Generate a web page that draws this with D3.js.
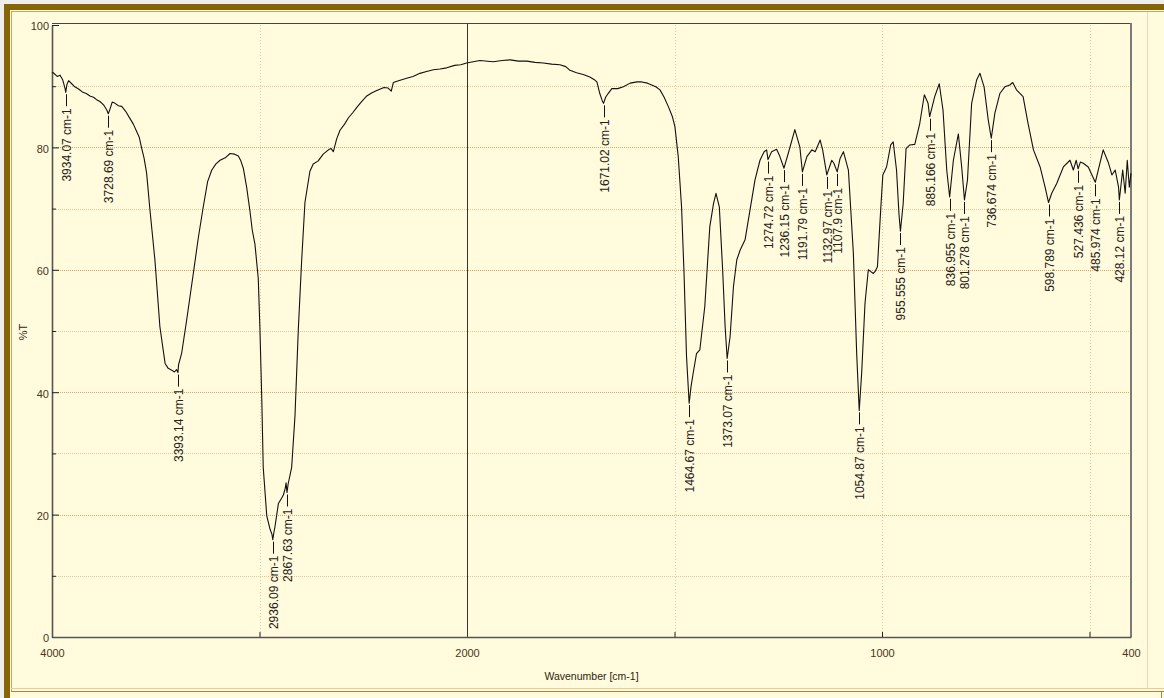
<!DOCTYPE html>
<html>
<head>
<meta charset="utf-8">
<script src="https://cdn.jsdelivr.net/npm/d3@7"></script>
<style>
body { margin: 0; background: #fff; }
svg { display: block; font-family: "Liberation Sans", Arial, sans-serif; }
</style>
</head>
<body>
<svg id="chart" width="1164" height="698"></svg>
<script>
// spectrum (cm-1 and %T)
var wavenumbers = [4000,3994,3975,3961,3948,3937,3934,3928,3920,3905,3890,3870,3851,3835,3817,3800,3785,3769,3750,3736,3728.7,3720,3710,3696,3680,3664,3645,3624,3608,3592,3580,3568,3556,3544,3528,3504,3480,3455,3440,3423,3410,3400,3393.1,3390,3375,3351,3319,3295,3271,3250,3230,3210,3190,3165,3142,3120,3102,3090,3078,3062,3046,3035,3022,3006,2998,2989,2982,2965,2949,2940,2936.1,2930,2925,2909,2895,2885,2876,2872,2867.6,2862,2845,2829,2813,2797,2781,2757,2741,2717,2693,2668,2655,2644,2635,2628,2612,2590,2572,2550,2532,2510,2483,2460,2435,2400,2380,2365,2355,2330,2291,2260,2227,2195,2162,2130,2098,2060,2030,2002,1969,1937,1915,1896,1876,1856,1836,1816,1796,1776,1762,1752,1736,1720,1704,1692,1687,1680,1674,1671.0,1666,1660,1651,1637,1623,1607,1590,1579,1565,1555,1545,1535,1525,1515,1505,1499,1491,1483,1477,1471,1464.7,1460,1455,1447,1439,1427,1415,1406,1400,1392,1384,1378,1373.1,1366,1358,1350,1342,1330,1318,1306,1294,1284,1278,1274.7,1266,1254,1246,1236.2,1226,1210,1198,1191.8,1181,1169,1161,1149,1143,1133.0,1121,1116,1107.9,1101,1093,1081,1069,1061,1054.9,1049,1041,1033,1027,1021,1016,1011,1003,998,989,979,973,965,959,955.6,949,942,933,921,909,898,889,885.2,873,862,853,844,837.0,828,816,808,801.3,794,784,772,764,754,744,736.7,728,716,704,692,685,676,660,648,635,619,607,598.8,591,579,563,547,539,532,527.4,522,515,503,486.0,475,467,454,446,438,430,428.1,420,414,409,404,400];
var transmittance = [92.3,92.2,91.6,91.8,91.0,89.6,89.0,90.3,90.9,90.4,89.9,89.5,89.0,88.8,88.4,88.2,87.8,87.5,86.9,86.1,85.5,86.3,87.4,87.2,86.8,86.7,85.9,84.7,83.8,82.6,81.7,79.9,78.2,75.8,69.8,61.6,50.7,44.7,43.9,43.6,43.3,43.7,43.2,44.5,46.4,51.8,59.4,65.2,70.3,74.4,76.3,77.3,77.9,78.3,79.0,78.9,78.6,77.8,76.6,73.5,69.6,66.5,64.2,58.6,50.4,38.9,27.7,19.8,17.6,16.8,15.9,17.2,18.1,21.8,22.6,23.2,24.3,25.2,23.6,25.0,27.7,36.1,50.2,61.4,71.0,76.1,77.3,77.8,78.9,79.6,79.8,79.3,80.5,81.4,82.8,83.8,84.8,85.7,86.5,87.4,88.4,88.9,89.3,89.8,89.7,89.2,90.6,90.9,91.3,91.6,92.1,92.4,92.7,92.8,93.0,93.4,93.5,93.8,94.2,94.0,94.2,94.3,94.1,94.1,93.9,93.8,93.6,93.5,93.2,92.6,92.2,91.9,91.5,91.0,90.7,88.8,87.6,87.2,88.2,88.8,89.6,89.6,89.9,90.5,90.7,90.7,90.5,90.2,89.9,89.4,88.2,86.7,85.0,83.4,78.5,70.3,59.4,45.8,38.2,41.0,43.1,46.3,46.9,54.0,67.0,70.8,72.5,70.3,60.0,50.7,45.5,49.1,57.2,61.6,63.2,64.9,69.8,74.7,77.9,79.3,79.6,78.0,79.3,79.7,78.5,76.6,79.0,82.9,80.1,76.0,78.5,79.6,79.3,81.2,79.6,75.5,77.9,77.4,76.0,78.2,79.3,76.3,62.7,46.3,37.0,43.1,54.5,60.0,59.7,59.4,59.8,60.5,70.0,75.5,76.8,80.4,80.9,76.3,69.0,66.3,70.8,79.8,80.4,80.5,83.9,88.6,87.2,85.0,88.3,90.4,86.1,76.3,71.9,77.9,82.2,76.8,71.4,74.7,87.2,91.0,92.1,89.9,84.5,81.5,85.6,88.8,89.9,90.2,90.6,89.4,88.3,83.9,79.6,76.8,73.5,71.0,72.5,74.1,76.8,77.9,76.3,77.9,76.5,77.6,77.4,76.8,74.3,77.4,79.6,77.4,75.5,76.3,73.5,71.4,76.3,72.5,77.9,73.5,75.8];

// picked peaks
var peakPositions = [3934.07,3728.69,3393.14,2936.09,2867.63,1671.02,1464.67,1373.07,1274.72,1236.15,1191.79,1132.97,1107.9,1054.87,955.555,885.166,836.955,801.278,736.674,598.789,527.436,485.974,428.12];
var peakLabels = ["3934.07 cm-1","3728.69 cm-1","3393.14 cm-1","2936.09 cm-1","2867.63 cm-1","1671.02 cm-1","1464.67 cm-1","1373.07 cm-1","1274.72 cm-1","1236.15 cm-1","1191.79 cm-1","1132.97 cm-1","1107.9 cm-1","1054.87 cm-1","955.555 cm-1","885.166 cm-1","836.955 cm-1","801.278 cm-1","736.674 cm-1","598.789 cm-1","527.436 cm-1","485.974 cm-1","428.12 cm-1"];

var yMajorTicks = [0,20,40,60,80,100];
var yMinorTicks = [10,30,50,70,90];
var xTickLabels = [4000,2000,1000,400];
var xGridValues = [3000,1500,1000,500];

var svg = d3.select('#chart');
var W = 1164, H = 698;
var pLeft = 52, pRight = 1131, pTop = 25, pBottom = 637;

// x axis is expanded below 2000 cm-1
var x = d3.scaleLinear().domain([4000, 2000, 400]).range([pLeft, 467, pRight]);
var y = d3.scaleLinear().domain([0, 100]).range([pBottom, pTop]);

// window frame
svg.append('rect').attr('x', 0).attr('y', 0).attr('width', W).attr('height', H).attr('fill', '#eeeeee');
svg.append('rect').attr('x', 4).attr('y', 4).attr('width', W - 4).attr('height', H - 4).attr('fill', '#fffbdc');
svg.append('rect').attr('x', 4).attr('y', 4).attr('width', W - 4).attr('height', 6).attr('fill', '#886408');
svg.append('rect').attr('x', 4).attr('y', 4).attr('width', 6).attr('height', H - 4).attr('fill', '#886408');
svg.append('line').attr('x1', 11).attr('x2', W).attr('y1', 11.5).attr('y2', 11.5).attr('stroke', '#c9a76a');
svg.append('line').attr('x1', 11.5).attr('x2', 11.5).attr('y1', 11).attr('y2', 692).attr('stroke', '#c9a76a');
svg.append('line').attr('x1', 1147.5).attr('x2', 1147.5).attr('y1', 12).attr('y2', 688).attr('stroke', '#f2d5b0');
svg.append('line').attr('x1', 11).attr('x2', W).attr('y1', 688.5).attr('y2', 688.5).attr('stroke', '#ecc99a');
svg.append('line').attr('x1', 11).attr('x2', W).attr('y1', 691.5).attr('y2', 691.5).attr('stroke', '#a88840');
svg.append('line').attr('x1', 1161.5).attr('x2', 1161.5).attr('y1', 692).attr('y2', H).attr('stroke', '#a88840');

// grid
var grid = svg.append('g');
grid.selectAll('.hmin').data(yMinorTicks).enter().append('line')
	.attr('x1', pLeft).attr('x2', pRight)
	.attr('y1', function(d) { return Math.round(y(d)) + 0.5; })
	.attr('y2', function(d) { return Math.round(y(d)) + 0.5; })
	.attr('stroke', '#e9c595').attr('stroke-dasharray', '1,1');
grid.selectAll('.hmaj').data(yMajorTicks.slice(1, 5)).enter().append('line')
	.attr('x1', pLeft).attr('x2', pRight)
	.attr('y1', function(d) { return Math.round(y(d)) + 0.5; })
	.attr('y2', function(d) { return Math.round(y(d)) + 0.5; })
	.attr('stroke', '#dfa463').attr('stroke-dasharray', '1,1');
grid.selectAll('.v').data(xGridValues).enter().append('line')
	.attr('x1', function(d) { return Math.round(x(d)) + 0.5; })
	.attr('x2', function(d) { return Math.round(x(d)) + 0.5; })
	.attr('y1', pTop).attr('y2', pBottom)
	.attr('stroke', '#ecc8a2').attr('stroke-dasharray', '1,2');

// 2000 cm-1 break line
svg.append('line').attr('x1', x(2000) + 0.5).attr('x2', x(2000) + 0.5).attr('y1', pTop - 1).attr('y2', pBottom)
	.attr('stroke', '#333').attr('stroke-width', 1);

// top and right border of the plot
svg.append('line').attr('x1', pLeft).attr('x2', pRight + 1).attr('y1', pTop - 1.5).attr('y2', pTop - 1.5)
	.attr('stroke', '#444').attr('stroke-width', 1);
svg.append('line').attr('x1', pRight).attr('x2', pRight).attr('y1', pTop - 2).attr('y2', pBottom)
	.attr('stroke', '#7a7a7a').attr('stroke-width', 2);

// axes
var yAxis = svg.append('g').attr('transform', 'translate(' + pLeft + ',0)')
	.call(d3.axisLeft(y).tickValues(yMajorTicks).tickSize(-7).tickSizeOuter(0).tickPadding(3));
var yMinor = svg.append('g').attr('transform', 'translate(' + pLeft + ',0)')
	.call(d3.axisLeft(y).tickValues(yMinorTicks).tickSize(-4).tickSizeOuter(0).tickFormat(''));
yMinor.select('.domain').remove();
var xAxis = svg.append('g').attr('transform', 'translate(0,' + pBottom + ')')
	.call(d3.axisBottom(x).tickValues(xTickLabels).tickSize(0).tickSizeOuter(0).tickPadding(12).tickFormat(d3.format('d')));
var xTicks = svg.append('g').attr('transform', 'translate(0,' + pBottom + ')')
	.call(d3.axisBottom(x).tickValues(xGridValues).tickSize(-5).tickSizeOuter(0).tickFormat(''));
xTicks.select('.domain').remove();

svg.selectAll('.domain').attr('stroke', '#555').attr('stroke-width', 1.6);
svg.selectAll('.tick line').attr('stroke', '#222');
svg.selectAll('.tick text').attr('font-size', 11).attr('fill', '#4a3420')
	.attr('font-family', '"Liberation Sans", Arial, sans-serif');
yAxis.selectAll('.tick text').attr('dy', '0.45em');

// axis titles
svg.append('text').attr('x', (pLeft + pRight) / 2).attr('y', 680).attr('text-anchor', 'middle')
	.attr('font-size', 10.5).attr('fill', '#2e2410').text('Wavenumber [cm-1]');
svg.append('text').attr('transform', 'translate(27,332) rotate(-90)').attr('text-anchor', 'middle')
	.attr('font-size', 11).attr('fill', '#2e2410').text('%T');

// spectrum
var series = wavenumbers.map(function(w, i) { return [w, transmittance[i]]; });
var line = d3.line().x(function(d) { return x(d[0]); }).y(function(d) { return y(d[1]); });
svg.append('path').datum(series).attr('d', line)
	.attr('fill', 'none').attr('stroke', '#111').attr('stroke-width', 1.1).attr('stroke-linejoin', 'round');

// value of the trace at a wavenumber
function valueAt(w) {
	for (var i = 0; i < wavenumbers.length - 1; i++) {
		var a = wavenumbers[i], b = wavenumbers[i + 1];
		if (w <= a && w >= b) {
			var t = (a - w) / (a - b);
			return transmittance[i] + t * (transmittance[i + 1] - transmittance[i]);
		}
	}
	return transmittance[transmittance.length - 1];
}

// peak labels
var peaks = svg.append('g').selectAll('g').data(peakPositions).enter().append('g')
	.attr('transform', function(d) {
		return 'translate(' + (Math.round(x(d)) + 0.5) + ',' + y(valueAt(d)) + ')';
	});
peaks.append('line').attr('x1', 0).attr('x2', 0).attr('y1', 2).attr('y2', 14)
	.attr('stroke', '#111').attr('stroke-width', 1);
peaks.append('text')
	.attr('transform', 'translate(4,16) rotate(-90)')
	.attr('text-anchor', 'end')
	.attr('font-size', 12)
	.attr('fill', '#262018')
	.text(function(d, i) { return peakLabels[i]; });
</script>
</body>
</html>
